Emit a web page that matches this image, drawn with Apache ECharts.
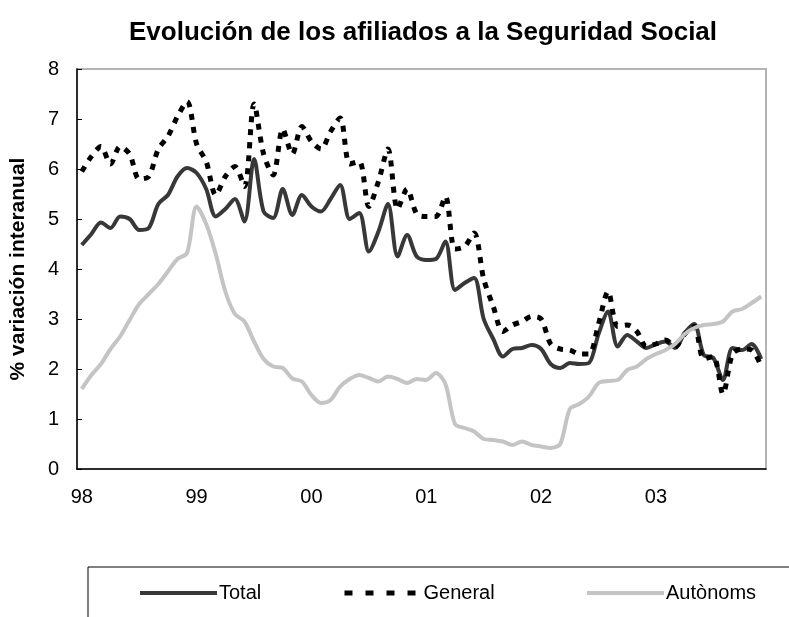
<!DOCTYPE html>
<html>
<head>
<meta charset="utf-8">
<script src="https://cdn.jsdelivr.net/npm/echarts@6/dist/echarts.min.js"></script>
<style>
  html, body { margin: 0; padding: 0; background: #fff; }
  #chart { width: 789px; height: 617px; }
</style>
</head>
<body>
<div id="chart"></div>
<script>
// años del eje X (un rótulo cada 12 meses)
var years = ['98', '99', '00', '01', '02', '03'];
var yTicks = [0, 1, 2, 3, 4, 5, 6, 7, 8];

// % variación interanual, mensual ene-1998 .. dic-2003
var total = [
  4.48, 4.70, 4.93, 4.82, 5.05, 5.00, 4.78, 4.82, 5.30, 5.48, 5.85, 6.02,
  5.92, 5.60, 5.05, 5.20, 5.40, 4.95, 6.20, 5.15, 5.02, 5.60, 5.08, 5.48,
  5.25, 5.15, 5.40, 5.68, 5.00, 5.12, 4.35, 4.75, 5.30, 4.25, 4.68, 4.25,
  4.18, 4.20, 4.55, 3.58, 3.72, 3.82, 3.00, 2.60, 2.25, 2.40, 2.42, 2.48,
  2.40, 2.10, 2.02, 2.12, 2.10, 2.12, 2.70, 3.15, 2.45, 2.68, 2.55, 2.42,
  2.50, 2.55, 2.42, 2.72, 2.90, 2.28, 2.22, 1.78, 2.42, 2.38, 2.50, 2.20
];
var general = [
  5.95, 6.25, 6.45, 6.10, 6.45, 6.30, 5.80, 5.85, 6.40, 6.65, 7.05, 7.35,
  6.50, 6.15, 5.48, 5.85, 6.05, 5.65, 7.30, 6.30, 5.88, 6.80, 6.30, 6.85,
  6.55, 6.40, 6.75, 7.02, 6.10, 6.15, 5.25, 5.75, 6.40, 5.20, 5.60, 5.10,
  5.05, 5.05, 5.45, 4.40, 4.45, 4.72, 3.80, 3.25, 2.75, 2.88, 2.95, 3.05,
  3.00, 2.50, 2.40, 2.38, 2.30, 2.30, 2.90, 3.55, 2.85, 2.88, 2.75, 2.45,
  2.50, 2.58, 2.45, 2.70, 2.85, 2.20, 2.25, 1.50, 2.30, 2.40, 2.38, 2.05
];
var autonoms = [
  1.60, 1.88, 2.10, 2.40, 2.65, 2.98, 3.30, 3.50, 3.70, 3.95, 4.20, 4.32,
  5.25, 4.90, 4.30, 3.55, 3.10, 2.95, 2.55, 2.20, 2.05, 2.02, 1.81, 1.75,
  1.48, 1.32, 1.38, 1.65, 1.80, 1.88, 1.82, 1.75, 1.85, 1.80, 1.72, 1.80,
  1.78, 1.92, 1.70, 0.90, 0.82, 0.75, 0.60, 0.58, 0.55, 0.48, 0.55, 0.48,
  0.45, 0.42, 0.50, 1.20, 1.30, 1.45, 1.72, 1.76, 1.78, 1.98, 2.05, 2.20,
  2.30, 2.38, 2.50, 2.70, 2.82, 2.88, 2.90, 2.95, 3.15, 3.20, 3.32, 3.45
];

// categorías: un mes por punto
var months = [];
for (var i = 0; i < years.length * 12; i++) {
  months.push(years[Math.floor(i / 12)] + '-' + (i % 12 + 1));
}

var font = '"Liberation Sans", Arial, sans-serif';
var chart = echarts.init(document.getElementById('chart'));

function legendAt(name, left, lineStyle) {
  return {
    data: [name],
    left: left,
    top: 578,
    itemWidth: 77,
    itemHeight: 16,
    selectedMode: false,
    // sin el círculo que ECharts pone en el icono de línea
    itemStyle: { opacity: 0, borderWidth: 0 },
    lineStyle: lineStyle,
    textStyle: { fontFamily: font, fontSize: 20, color: '#000', padding: [0, 0, 0, -3] }
  };
}

var option = {
  backgroundColor: '#fff',
  animation: false,
  title: {
    text: 'Evolución de los afiliados a la Seguridad Social',
    left: 124,
    top: 15,
    textStyle: { fontFamily: font, fontSize: 26, fontWeight: 'bold', color: '#000' }
  },
  legend: [
    legendAt('Total', 133, { width: 4 }),
    legendAt('General', 337, { type: [8, 13], width: 5 }),
    legendAt('Autònoms', 580, { width: 4 })
  ],
  grid: {
    left: 76, right: 23, top: 69, bottom: 148,
    show: true,
    borderColor: '#b4b4b4',
    borderWidth: 2
  },
  xAxis: {
    type: 'category',
    boundaryGap: true,
    data: months,
    axisLine: { lineStyle: { color: '#000', width: 1.5 } },
    axisTick: { inside: true, length: 5, interval: 11, lineStyle: { color: '#000' } },
    axisLabel: {
      interval: 11,
      margin: 18,
      fontFamily: font, fontSize: 20, color: '#000',
      formatter: function (v) { return v.split('-')[0]; }
    },
    splitLine: { show: false }
  },
  yAxis: {
    type: 'value',
    min: yTicks[0],
    max: yTicks[yTicks.length - 1],
    interval: 1,
    name: '% variación interanual',
    nameLocation: 'middle',
    nameGap: 48,
    nameTextStyle: { fontFamily: font, fontSize: 21, fontWeight: 'bold', color: '#000' },
    axisLine: { show: true, lineStyle: { color: '#000', width: 1.5 } },
    axisTick: { show: true, inside: true, length: 5, lineStyle: { color: '#000' } },
    axisLabel: { margin: 18, fontFamily: font, fontSize: 20, color: '#000' },
    splitLine: { show: false }
  },
  graphic: [{
    // marco de la leyenda (abierto por la derecha y abajo)
    type: 'rect',
    shape: { x: 88, y: 567, width: 760, height: 100 },
    style: { fill: 'none', stroke: '#000', lineWidth: 1 },
    silent: true
  }],
  series: [
    {
      name: 'Total', type: 'line', data: total,
      symbol: 'none', showSymbol: false, smooth: 0.3,
      lineStyle: { color: '#383838', width: 4 },
      itemStyle: { color: '#383838' }
    },
    {
      name: 'General', type: 'line', data: general,
      symbol: 'none', showSymbol: false, smooth: 0.3,
      lineStyle: { color: '#000', width: 5, type: [6, 7] },
      itemStyle: { color: '#000' }
    },
    {
      name: 'Autònoms', type: 'line', data: autonoms,
      symbol: 'none', showSymbol: false, smooth: 0.3,
      lineStyle: { color: '#c4c4c4', width: 4 },
      itemStyle: { color: '#c4c4c4' }
    }
  ]
};
chart.setOption(option);
</script>
</body>
</html>
